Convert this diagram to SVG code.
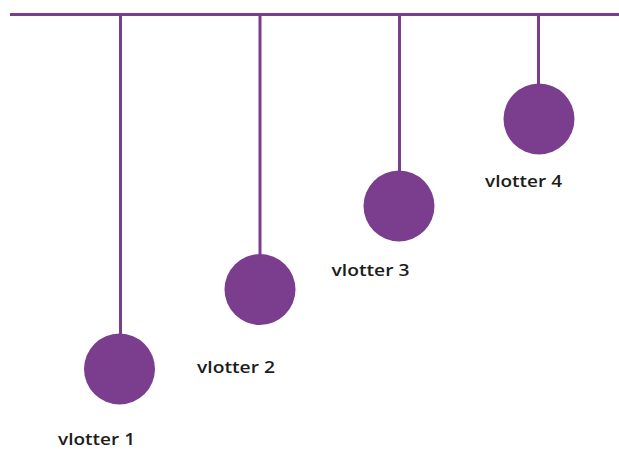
<svg xmlns="http://www.w3.org/2000/svg" width="619" height="450" viewBox="0 0 619 450">
<style>
.ln{stroke:#7b3d8e;stroke-width:3;fill:none}
.bob{fill:#7b3d8e}
.lbl{font-family:"Open Sans","Noto Sans",sans-serif;font-size:17px;font-weight:600;fill:#1c1c1c}
</style>
<rect width="619" height="450" fill="#ffffff"/>
<g id="connectors">
<line class="ln" x1="10" y1="14.5" x2="619" y2="14.5"/>
<line class="ln" x1="120.5" y1="14.5" x2="120.5" y2="336"/>
<line class="ln" x1="260" y1="14.5" x2="260" y2="256"/>
<line class="ln" x1="399.5" y1="14.5" x2="399.5" y2="172"/>
<line class="ln" x1="538.5" y1="14.5" x2="538.5" y2="86"/>
</g>
<g id="vlotter1"><circle class="bob" cx="119.5" cy="369" r="35.5"/><text class="lbl" x="58" y="445" textLength="77" lengthAdjust="spacingAndGlyphs">vlotter 1</text></g>
<g id="vlotter2"><circle class="bob" cx="260" cy="289.5" r="35.5"/><text class="lbl" x="197" y="372.5" textLength="78" lengthAdjust="spacingAndGlyphs">vlotter 2</text></g>
<g id="vlotter3"><circle class="bob" cx="399" cy="206" r="35.5"/><text class="lbl" x="331.5" y="275.5" textLength="78" lengthAdjust="spacingAndGlyphs">vlotter 3</text></g>
<g id="vlotter4"><circle class="bob" cx="539" cy="119" r="35.5"/><text class="lbl" x="485" y="186.5" textLength="77" lengthAdjust="spacingAndGlyphs">vlotter 4</text></g>
</svg>
